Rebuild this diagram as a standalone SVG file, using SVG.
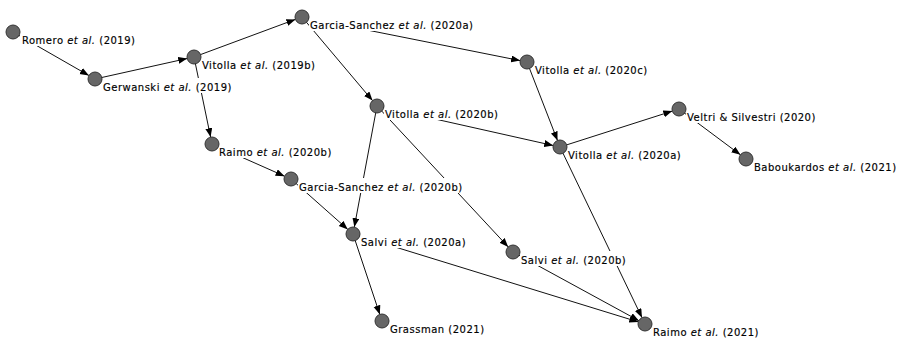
<svg xmlns="http://www.w3.org/2000/svg" width="901" height="339" viewBox="0 0 901 339">
<defs>
<marker id="arr" markerUnits="userSpaceOnUse" markerWidth="10" markerHeight="8" refX="9" refY="3.5" orient="auto">
<path d="M0,0 L9,3.5 L0,7 z" fill="#000"/>
</marker>
<style>
.e{stroke:#111;stroke-width:1;fill:none;marker-end:url(#arr)}
.n{fill:#666;stroke:#333;stroke-width:1}
.bg{fill:#fff}
.t{font-family:"DejaVu Sans",Verdana,sans-serif;font-size:10px;letter-spacing:0.5px;fill:#000;stroke:#000;stroke-width:0.15}
.i{font-style:italic}
</style>
</defs>
<rect width="901" height="339" fill="#fff"/>
<g id="edges">
<line class="e" x1="13" y1="32" x2="88.9" y2="75.5"/>
<line class="e" x1="95" y1="79" x2="187.2" y2="58.5"/>
<line class="e" x1="194" y1="57" x2="295.4" y2="19.4"/>
<line class="e" x1="194" y1="57" x2="210.6" y2="137.1"/>
<line class="e" x1="302" y1="17" x2="520.1" y2="60.6"/>
<line class="e" x1="302" y1="17" x2="372.5" y2="100.6"/>
<line class="e" x1="527" y1="62" x2="557.5" y2="140.5"/>
<line class="e" x1="377" y1="106" x2="553.2" y2="145.5"/>
<line class="e" x1="377" y1="106" x2="354.3" y2="227.1"/>
<line class="e" x1="377" y1="106" x2="508.2" y2="246.9"/>
<line class="e" x1="560" y1="147" x2="672.3" y2="111.1"/>
<line class="e" x1="560" y1="147" x2="642.0" y2="317.7"/>
<line class="e" x1="679" y1="109" x2="740.4" y2="154.8"/>
<line class="e" x1="212" y1="144" x2="284.6" y2="176.2"/>
<line class="e" x1="291" y1="179" x2="347.8" y2="229.4"/>
<line class="e" x1="353" y1="234" x2="379.8" y2="314.4"/>
<line class="e" x1="353" y1="234" x2="638.3" y2="321.9"/>
<line class="e" x1="513" y1="252" x2="638.9" y2="320.7"/>
</g>
<g id="romero"><rect class="bg" x="20" y="31" width="116" height="15"/><circle class="n" cx="13" cy="32" r="7"/><text class="t" x="22" y="44">Romero <tspan class="i">et al.</tspan> (2019)</text></g>
<g id="gerwanski"><rect class="bg" x="102" y="78" width="130" height="15"/><circle class="n" cx="95" cy="79" r="7"/><text class="t" x="103" y="91">Gerwanski <tspan class="i">et al.</tspan> (2019)</text></g>
<g id="vitolla2019b"><rect class="bg" x="201" y="56" width="124" height="15"/><circle class="n" cx="194" cy="57" r="7"/><text class="t" x="202" y="69">Vitolla <tspan class="i">et al.</tspan> (2019b)</text></g>
<g id="garcia2020a"><rect class="bg" x="309" y="16" width="167" height="15"/><circle class="n" cx="302" cy="17" r="7"/><text class="t" x="310" y="29">Garcia-Sanchez <tspan class="i">et al.</tspan> (2020a)</text></g>
<g id="vitolla2020c"><rect class="bg" x="534" y="61" width="124" height="15"/><circle class="n" cx="527" cy="62" r="7"/><text class="t" x="535" y="74">Vitolla <tspan class="i">et al.</tspan> (2020c)</text></g>
<g id="vitolla2020b"><rect class="bg" x="384" y="105" width="124" height="15"/><circle class="n" cx="377" cy="106" r="7"/><text class="t" x="385" y="118">Vitolla <tspan class="i">et al.</tspan> (2020b)</text></g>
<g id="vitolla2020a"><rect class="bg" x="567" y="146" width="124" height="15"/><circle class="n" cx="560" cy="147" r="7"/><text class="t" x="568" y="159">Vitolla <tspan class="i">et al.</tspan> (2020a)</text></g>
<g id="veltri"><rect class="bg" x="686" y="108" width="128" height="15"/><circle class="n" cx="679" cy="109" r="7"/><text class="t" x="687" y="121">Veltri &amp; Silvestri (2020)</text></g>
<g id="baboukardos"><rect class="bg" x="753" y="158" width="142" height="15"/><circle class="n" cx="746" cy="159" r="7"/><text class="t" x="754" y="171">Baboukardos <tspan class="i">et al.</tspan> (2021)</text></g>
<g id="raimo2020b"><rect class="bg" x="218" y="143" width="116" height="15"/><circle class="n" cx="212" cy="144" r="7"/><text class="t" x="219" y="156">Raimo <tspan class="i">et al.</tspan> (2020b)</text></g>
<g id="garcia2020b"><rect class="bg" x="298" y="178" width="167" height="15"/><circle class="n" cx="291" cy="179" r="7"/><text class="t" x="299" y="191">Garcia-Sanchez <tspan class="i">et al.</tspan> (2020b)</text></g>
<g id="salvi2020a"><rect class="bg" x="360" y="233" width="114" height="15"/><circle class="n" cx="353" cy="234" r="7"/><text class="t" x="361" y="246">Salvi <tspan class="i">et al.</tspan> (2020a)</text></g>
<g id="salvi2020b"><rect class="bg" x="520" y="251" width="114" height="15"/><circle class="n" cx="513" cy="252" r="7"/><text class="t" x="521" y="264">Salvi <tspan class="i">et al.</tspan> (2020b)</text></g>
<g id="grassman"><rect class="bg" x="389" y="320" width="86" height="15"/><circle class="n" cx="382" cy="321" r="7"/><text class="t" x="390" y="333">Grassman (2021)</text></g>
<g id="raimo2021"><rect class="bg" x="652" y="323" width="110" height="15"/><circle class="n" cx="645" cy="324" r="7"/><text class="t" x="653" y="336">Raimo <tspan class="i">et al.</tspan> (2021)</text></g>
</svg>
